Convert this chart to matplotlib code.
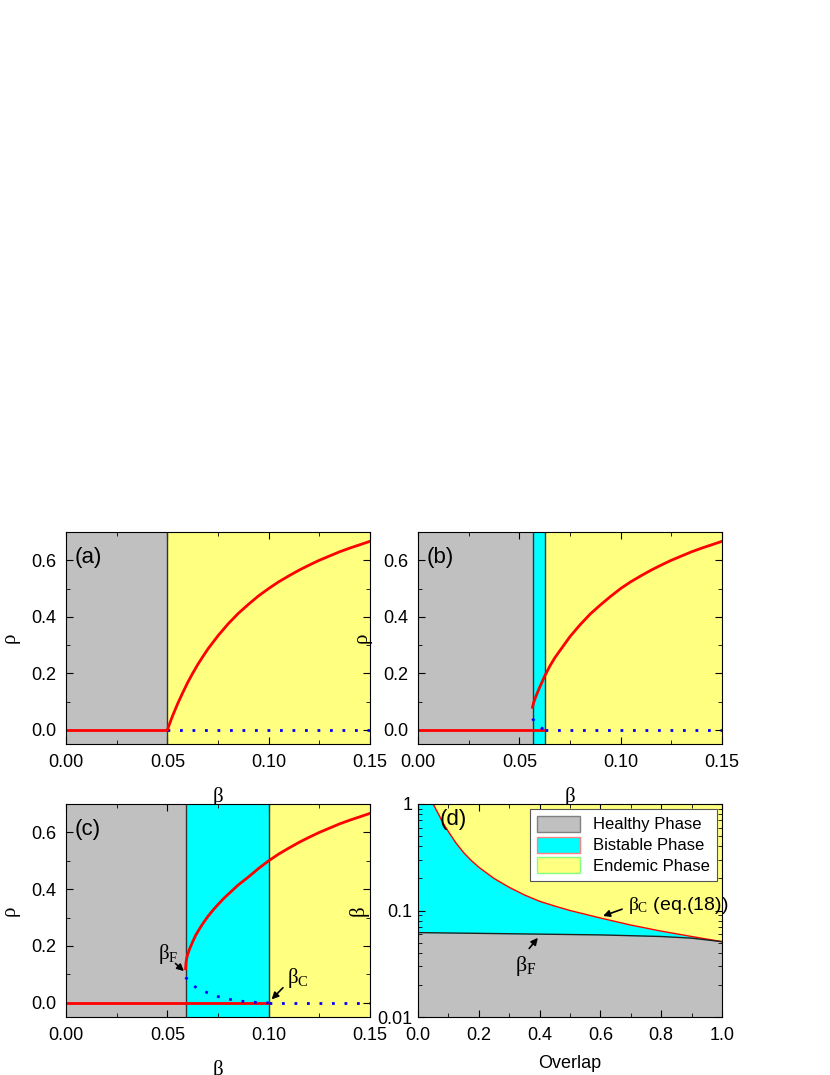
import matplotlib
matplotlib.use("Agg")
import matplotlib.pyplot as plt
from matplotlib.ticker import AutoMinorLocator
from matplotlib.patches import Patch
import numpy as np

plt.rcParams['font.family'] = ['Liberation Sans', 'DejaVu Sans']
plt.rcParams['mathtext.fontset'] = 'custom'
plt.rcParams['mathtext.rm'] = 'Liberation Serif'
plt.rcParams['mathtext.it'] = 'Liberation Serif'

GRAY = '#c0c0c0'; CYAN = '#00ffff'; YEL = '#ffff80'

# panel (a)
a_bc = 0.05
a_b = [0.05, 0.0525, 0.055, 0.0575, 0.06, 0.0625, 0.065, 0.0675, 0.07, 0.075, 0.08, 0.085, 0.09, 0.095,
       0.10, 0.105, 0.11, 0.115, 0.12, 0.125, 0.13, 0.135, 0.14, 0.145, 0.15]
a_r = [0.0, 0.048, 0.091, 0.130, 0.167, 0.200, 0.231, 0.259, 0.286, 0.333, 0.375, 0.412, 0.444, 0.474,
       0.5, 0.524, 0.545, 0.565, 0.583, 0.600, 0.615, 0.630, 0.643, 0.655, 0.667]
# panel (b)
b_bf, b_bc = 0.0565, 0.0625
b_b = [0.0565, 0.057, 0.058, 0.059, 0.06, 0.0625, 0.065, 0.0675, 0.07, 0.075, 0.08, 0.085, 0.09, 0.095,
       0.10, 0.105, 0.11, 0.115, 0.12, 0.125, 0.13, 0.135, 0.14, 0.145, 0.15]
b_r = [0.08, 0.095, 0.115, 0.133, 0.15, 0.19, 0.225, 0.255, 0.28, 0.33, 0.372, 0.41, 0.442, 0.472,
       0.5, 0.524, 0.545, 0.565, 0.583, 0.600, 0.615, 0.630, 0.643, 0.655, 0.667]
b_ub = [0.0565, 0.058, 0.06, 0.0625]
b_ur = [0.04, 0.025, 0.01, 0.0]
# panel (c)
c_bf, c_bc = 0.059, 0.10
c_b = [0.059, 0.0592, 0.0595, 0.06, 0.061, 0.0625, 0.064, 0.066, 0.068, 0.07, 0.0725, 0.075, 0.0775, 0.08,
       0.085, 0.09, 0.095, 0.10, 0.105, 0.11, 0.115, 0.12, 0.125, 0.13, 0.135, 0.14, 0.145, 0.15]
c_r = [0.12, 0.14, 0.155, 0.17, 0.19, 0.215, 0.238, 0.262, 0.284, 0.304, 0.326, 0.346, 0.365, 0.382,
       0.415, 0.443, 0.473, 0.5, 0.524, 0.545, 0.565, 0.583, 0.600, 0.615, 0.630, 0.643, 0.655, 0.667]
c_ub = [0.059, 0.062, 0.065, 0.07, 0.075, 0.08, 0.085, 0.09, 0.095, 0.10]
c_ur = [0.09, 0.065, 0.05, 0.035, 0.022, 0.013, 0.007, 0.003, 0.001, 0.0]
# panel (d)
d_ov = [0.05, 0.06, 0.07, 0.08, 0.1, 0.125, 0.15, 0.175, 0.2, 0.25, 0.3, 0.35, 0.4, 0.45, 0.5, 0.6, 0.7, 0.8, 0.9, 1.0]
d_bc = [1.0, 0.88, 0.78, 0.68, 0.55, 0.43, 0.35, 0.295, 0.255, 0.2, 0.165, 0.14, 0.122, 0.11, 0.1, 0.085,
        0.073, 0.064, 0.057, 0.051]
d_ovf = [0.0, 0.2, 0.4, 0.6, 0.8, 0.9, 1.0]
d_bf = [0.062, 0.061, 0.06, 0.059, 0.057, 0.055, 0.051]

fig = plt.figure(figsize=(8.3, 10.75), dpi=100)
W, H = 830, 1075
def ax_at(x0, y0, x1, y1):
    return fig.add_axes([x0 / W, 1 - y1 / H, (x1 - x0) / W, (y1 - y0) / H])

serif = ['Liberation Serif', 'DejaVu Serif']

def style(ax):
    ax.tick_params(direction='in', which='both', top=True, right=True, labelsize=13, pad=7)
    ax.tick_params(which='major', length=5)
    ax.tick_params(which='minor', length=3)

def rho_panel(ax, bf, bc, sb, sr, ub, ur, label):
    ax.set_xlim(0, 0.15); ax.set_ylim(-0.05, 0.7)
    ax.axvspan(0, bf, color=GRAY, lw=0)
    if bc > bf:
        ax.axvspan(bf, bc, color=CYAN, lw=0)
    ax.axvspan(bc, 0.15, color=YEL, lw=0)
    ax.axvline(bf, color='#333333', lw=1)
    if bc > bf:
        ax.axvline(bc, color='#333333', lw=1)
    ax.plot([0, bc], [0, 0], color='red', lw=2)
    ax.plot([bc, 0.15], [0, 0], color='blue', lw=2, ls=(0, (1, 3.5)))
    if ub:
        ax.plot(ub, ur, color='blue', lw=2, ls=(0, (1, 3.5)))
    ax.plot(sb, sr, color='red', lw=2)
    ax.set_xticks([0, 0.05, 0.10, 0.15]); ax.set_xticklabels(['0.00', '0.05', '0.10', '0.15'])
    ax.set_yticks([0, 0.2, 0.4, 0.6])
    ax.xaxis.set_minor_locator(AutoMinorLocator(2)); ax.yaxis.set_minor_locator(AutoMinorLocator(2))
    ax.set_xlabel('β', family=serif, fontsize=15, labelpad=12)
    ax.set_ylabel('ρ', family=serif, fontsize=15, labelpad=8)
    ax.text(0.03, 0.93, label, transform=ax.transAxes, fontsize=16, va='top')
    style(ax)

axa = ax_at(66, 532, 370, 744)
rho_panel(axa, a_bc, a_bc, a_b, a_r, None, None, '(a)')
axb = ax_at(418, 532, 722, 744)
rho_panel(axb, b_bf, b_bc, b_b, b_r, b_ub, b_ur, '(b)')
axc = ax_at(66, 804, 370, 1017)
rho_panel(axc, c_bf, c_bc, c_b, c_r, c_ub, c_ur, '(c)')
axc.annotate('', xy=(0.0592, 0.105), xytext=(0.053, 0.145),
             arrowprops=dict(arrowstyle='-|>', color='black', lw=1.2))
axc.text(0.0455, 0.155, r'$\beta_{\rm F}$', fontsize=15)
axc.annotate('', xy=(0.1005, 0.005), xytext=(0.108, 0.06),
             arrowprops=dict(arrowstyle='-|>', color='black', lw=1.2))
axc.text(0.109, 0.07, r'$\beta_{\rm C}$', fontsize=15)

# panel (d)
axd = ax_at(418, 804, 722, 1017)
axd.set_yscale('log')
axd.set_xlim(0, 1); axd.set_ylim(0.01, 1)
axd.fill_between([0, 1], 0.01, 1, color=CYAN, lw=0)
axd.fill_between(d_ovf, 0.01, d_bf, color=GRAY, lw=0)
axd.fill_between(d_ov, d_bc, 1, color=YEL, lw=0)
axd.plot(d_ov, d_bc, color='red', lw=1)
axd.plot(d_ovf, d_bf, color='#222222', lw=1)
axd.set_yticks([0.01, 0.1, 1]); axd.set_yticklabels(['0.01', '0.1', '1'])
axd.set_xticks([0, 0.2, 0.4, 0.6, 0.8, 1.0])
axd.xaxis.set_minor_locator(AutoMinorLocator(2))
axd.set_xlabel('Overlap', fontsize=13, labelpad=8)
axd.set_ylabel('β', family=serif, fontsize=15, labelpad=6)
axd.text(0.07, 0.71, '(d)', fontsize=16, va='center')
style(axd)
axd.tick_params(axis='y', pad=4)
leg = axd.legend(handles=[Patch(facecolor=GRAY, edgecolor='gray', label='Healthy Phase'),
                          Patch(facecolor=CYAN, edgecolor='#ff8080', label='Bistable Phase'),
                          Patch(facecolor=YEL, edgecolor='#80ff80', label='Endemic Phase')],
                 loc='upper right', fontsize=12, fancybox=False, framealpha=1,
                 edgecolor='#555555', borderaxespad=0.3, handlelength=2.6, handleheight=1.1,
                 labelspacing=0.25)
leg.get_frame().set_linewidth(0.8)
axd.annotate('', xy=(0.6, 0.087), xytext=(0.68, 0.105),
             arrowprops=dict(arrowstyle='-|>', color='black', lw=1.2))
axd.text(0.69, 0.1, r'$\beta_{\rm C}$ (eq.(18))', fontsize=14)
axd.annotate('', xy=(0.4, 0.058), xytext=(0.36, 0.042),
             arrowprops=dict(arrowstyle='-|>', color='black', lw=1.2))
axd.text(0.32, 0.027, r'$\beta_{\rm F}$', fontsize=16)

fig.savefig('out.png', dpi=100)
